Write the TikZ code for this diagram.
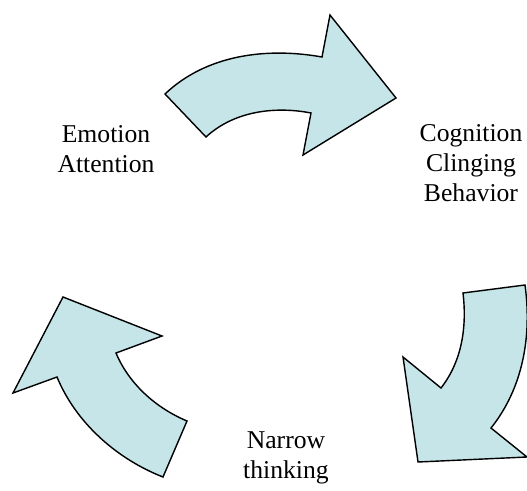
\documentclass[tikz,border=0pt]{standalone}
\usepackage{fontspec}
\setmainfont{Liberation Serif}
\definecolor{arrowfill}{RGB}{197,229,232}

\begin{document}
\begin{tikzpicture}[x=0.02cm, y=-0.02cm]
	\tikzset{blk/.style={fill=arrowfill, draw=black, line width=0.8pt, line join=miter}};
	\tikzset{lbl/.style={align=center, inner sep=0pt, font=\fontsize{14.6}{16.9}\selectfont}};

	\useasboundingbox (0, 0) rectangle (527, 490);
	\clip (0, 0) rectangle (527, 490);

	% top arrow
	\draw[blk] (165, 94) .. controls (206, 55) and (266, 47) .. (322, 57)
		-- (330, 15) -- (396, 98) -- (303, 155) -- (311, 113)
		.. controls (275, 106) and (234, 111) .. (206, 137) -- cycle;

	% right arrow
	\draw[blk] (525, 285) .. controls (532, 336) and (523, 388) .. (491, 428)
		-- (527, 457) -- (418, 462) -- (403, 357) -- (441, 388)
		.. controls (462, 361) and (467, 327) .. (463, 293) -- cycle;

	% left arrow
	\draw[blk] (163, 477) .. controls (117, 459) and (76, 423) .. (57, 377)
		-- (13, 393) -- (63, 297) -- (162, 336) -- (116, 353)
		.. controls (129, 384) and (156, 408) .. (187, 421) -- cycle;

	\node[lbl] (emo) at (106, 149) {Emotion\\Attention};
	\node[lbl] (cog) at (471, 163) {Cognition\\Clinging\\Behavior};
	\node[lbl] (nar) at (286, 458) {Narrow\\thinking};
\end{tikzpicture}
\end{document}
